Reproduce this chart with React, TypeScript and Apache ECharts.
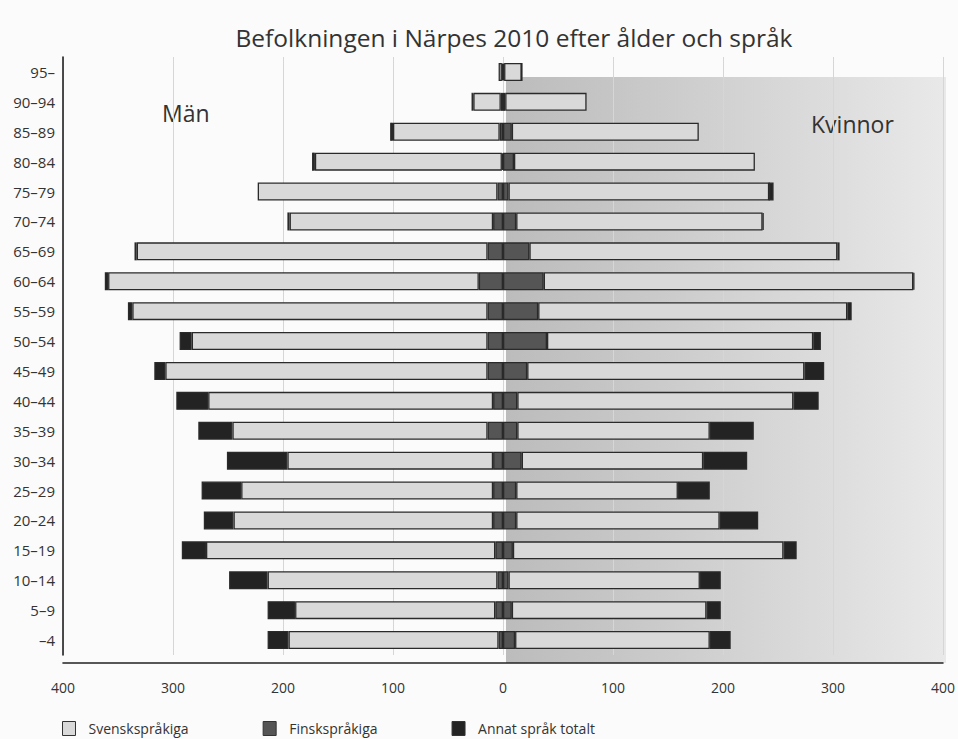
import React, { useEffect, useRef } from "react";
import * as echarts from "echarts";

const ageGroups = ["–4", "5–9", "10–14", "15–19", "20–24", "25–29", "30–34", "35–39", "40–44", "45–49", "50–54", "55–59", "60–64", "65–69", "70–74", "75–79", "80–84", "85–89", "90–94", "95–"];

// Men (drawn to the left), ordered from youngest to oldest
const menSwedish = [191, 182, 209, 263, 236, 229, 187, 232, 259, 293, 269, 323, 337, 319, 185, 218, 170, 97, 25, 3];
const menFinnish = [4, 7, 5, 7, 9, 9, 9, 14, 9, 14, 14, 14, 22, 14, 9, 5, 1, 3, 2, 1];
const menOther = [19, 25, 35, 22, 27, 36, 55, 31, 29, 10, 11, 4, 3, 2, 2, 0, 2, 2, 1, 0];

// Women (drawn to the right)
const womenSwedish = [177, 177, 174, 246, 185, 147, 165, 175, 251, 252, 242, 281, 336, 280, 224, 237, 219, 170, 74, 16];
const womenFinnish = [11, 8, 5, 9, 12, 12, 17, 13, 13, 22, 40, 32, 37, 24, 12, 5, 10, 8, 2, 1];
const womenOther = [19, 13, 19, 12, 35, 29, 40, 40, 23, 18, 7, 4, 1, 2, 1, 4, 0, 0, 0, 0];

const xTicks = [-400, -300, -200, -100, 0, 100, 200, 300, 400];

const FONT = "'Open Sans', 'Noto Sans', sans-serif";
const C_SV = "#d9d9d9";
const C_FI = "#555555";
const C_OT = "#232323";

export default function App() {
  const ref = useRef<HTMLDivElement>(null);
  useEffect(() => {
    if (!ref.current) return;
    const chart = echarts.init(ref.current, null, { renderer: "svg" });
    const neg = (a: number[]) => a.map((v) => -v);
    const barBase = {
      type: "bar" as const,
      stack: "pop",
      barWidth: 18,
      itemStyle: { borderColor: "#2a2a2a", borderWidth: 1.3 },
    };
    chart.setOption({
      animation: false,
      backgroundColor: "#fbfbfb",
      title: {
        text: "Befolkningen i Närpes 2010 efter ålder och språk",
        left: 509,
        textAlign: "center",
        top: 20,
        textStyle: { fontFamily: FONT, fontSize: 24.5, fontWeight: "normal", color: "#333" },
      },
      legend: {
        left: 57,
        top: 716,
        itemWidth: 13,
        itemHeight: 14,
        itemGap: 74,
        icon: "rect",
        data: ["Svenskspråkiga", "Finskspråkiga", "Annat språk totalt"],
        textStyle: { fontFamily: FONT, fontSize: 14, color: "#333", padding: [0, 0, 0, 8] },
        selectedMode: false,
        itemStyle: { borderColor: "#333", borderWidth: 1 },
      },
      graphic: [
        {
          type: "rect",
          z: -10,
          silent: true,
          shape: { x: 506, y: 77, width: 440, height: 586 },
          style: {
            fill: new echarts.graphic.LinearGradient(0, 0, 1, 0, [
              { offset: 0, color: "#bcbcbc" },
              { offset: 0.25, color: "#c6c6c6" },
              { offset: 1, color: "#e9e9e9" },
            ]),
          },
        },
        {
          type: "text",
          left: 162,
          top: 101,
          style: { text: "Män", fontFamily: FONT, fontSize: 23, fill: "#333" },
        },
        {
          type: "text",
          left: 811,
          top: 112,
          style: { text: "Kvinnor", fontFamily: FONT, fontSize: 23, fill: "#333" },
        },
      ],
      grid: { left: 63, right: 12, top: 57, bottom: 84, containLabel: false },
      xAxis: {
        type: "value",
        min: xTicks[0],
        max: xTicks[xTicks.length - 1],
        interval: 100,
        offset: 8,
        axisLine: { show: true, lineStyle: { color: "#222", width: 1.6 } },
        axisTick: { show: false },
        axisLabel: {
          margin: 17,
          fontFamily: FONT,
          fontSize: 14,
          color: "#333",
          formatter: (v: number) => String(Math.abs(v)),
        },
        splitLine: { show: true, lineStyle: { color: "#d6d6d6", width: 1 } },
      },
      yAxis: {
        type: "category",
        data: ageGroups,
        axisLine: { show: true, onZero: false, lineStyle: { color: "#222", width: 1.6 } },
        axisTick: { show: false },
        axisLabel: { margin: 8, fontFamily: FONT, fontSize: 15, color: "#333" },
      },
      series: [
        { ...barBase, name: "Finskspråkiga", data: neg(menFinnish), itemStyle: { ...barBase.itemStyle, color: C_FI } },
        { ...barBase, name: "Finskspråkiga", data: womenFinnish, itemStyle: { ...barBase.itemStyle, color: C_FI } },
        { ...barBase, name: "Svenskspråkiga", data: neg(menSwedish), itemStyle: { ...barBase.itemStyle, color: C_SV } },
        { ...barBase, name: "Svenskspråkiga", data: womenSwedish, itemStyle: { ...barBase.itemStyle, color: C_SV } },
        { ...barBase, name: "Annat språk totalt", data: neg(menOther), itemStyle: { ...barBase.itemStyle, color: C_OT } },
        { ...barBase, name: "Annat språk totalt", data: womenOther, itemStyle: { ...barBase.itemStyle, color: C_OT } },
      ],
    });
    return () => chart.dispose();
  }, []);
  return <div ref={ref} style={{ position: "fixed", left: 0, top: 0, width: 958, height: 739 }} />;
}
